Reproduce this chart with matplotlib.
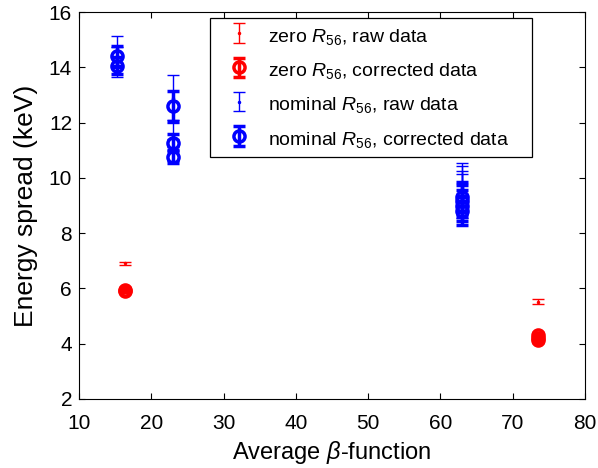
import matplotlib
matplotlib.use("Agg")
import matplotlib.pyplot as plt
from matplotlib.patches import Rectangle
import numpy as np

plt.rcParams['font.family'] = ['Liberation Sans', 'DejaVu Sans']
plt.rcParams['mathtext.fontset'] = 'custom'
plt.rcParams['mathtext.rm'] = 'Liberation Sans'
plt.rcParams['mathtext.it'] = 'Liberation Sans:italic'

# zero R56, raw data
zr_x = [16.4, 73.5]
zr_y = [6.91, 5.52]
zr_e = [0.06, 0.10]

# zero R56, corrected data
zc_x = [16.4, 16.4, 73.5, 73.5, 73.5]
zc_y = [5.95, 5.92, 4.30, 4.20, 4.14]
zc_e = [0.07, 0.06, 0.10, 0.08, 0.08]

# nominal R56, raw data
nr_x = [15.2, 15.2, 23.0, 23.0, 23.0, 63.0, 63.0, 63.0, 63.0]
nr_y = [14.55, 14.2, 12.9, 11.55, 11.0, 9.75, 9.6, 9.45, 9.35]
nr_e = [0.59, 0.55, 0.82, 0.45, 0.40, 0.80, 0.83, 0.81, 0.79]

# nominal R56, corrected data
nc_x = [15.2, 15.2, 23.0, 23.0, 23.0, 63.0, 63.0, 63.0, 63.0]
nc_y = [14.41, 14.06, 12.6, 11.27, 10.77, 9.3, 9.15, 9.0, 8.8]
nc_e = [0.37, 0.30, 0.55, 0.30, 0.25, 0.55, 0.58, 0.55, 0.50]

fig = plt.figure(figsize=(5.98, 4.68), dpi=100)
ax = fig.add_axes([79/598, 1-399/468, 506/598, 387/468])

ax.errorbar(zr_x, zr_y, yerr=zr_e, fmt='.', color='red', ms=3, lw=1,
            capsize=4, capthick=1, label='zero $R_{56}$, raw data')
ax.errorbar(zc_x, zc_y, yerr=zc_e, fmt='o', color='red', mfc='none', ms=8, mew=2.5,
            lw=2.5, capsize=4, capthick=2.5, label='zero $R_{56}$, corrected data')
ax.errorbar(nr_x, nr_y, yerr=nr_e, fmt='.', color='blue', ms=3, lw=1,
            capsize=4, capthick=1, label='nominal $R_{56}$, raw data')
ax.errorbar(nc_x, nc_y, yerr=nc_e, fmt='o', color='blue', mfc='none', ms=8, mew=2.5,
            lw=2.5, capsize=4, capthick=2.5, label='nominal $R_{56}$, corrected data')

ax.set_xlim(10, 80)
ax.set_ylim(2, 16)
ax.set_xticks(np.arange(10, 81, 10))
ax.set_yticks(np.arange(2, 17, 2))
ax.tick_params(direction='in', top=True, right=True, labelsize=15, length=4)
ax.tick_params(axis='x', pad=11)
ax.tick_params(axis='y', pad=5)
ax.set_xlabel(r'Average $\beta$-function', fontsize=17, labelpad=4)
ax.set_ylabel('Energy spread (keV)', fontsize=19, labelpad=8)

# legend box (frame drawn separately to get Matlab-like padding)
box = Rectangle((0.259, 0.625), 0.636, 0.359, transform=ax.transAxes,
                facecolor='white', edgecolor='black', linewidth=0.9, zorder=4)
ax.add_patch(box)
leg = ax.legend(loc='upper left', bbox_to_anchor=(0.269, 0.984), fontsize=14,
                frameon=False, borderaxespad=0,
                handlelength=1.9, handleheight=1.4, borderpad=0.3, labelspacing=0.6,
                handletextpad=0.5)
leg.set_zorder(5)

fig.savefig('out.png', dpi=100)
